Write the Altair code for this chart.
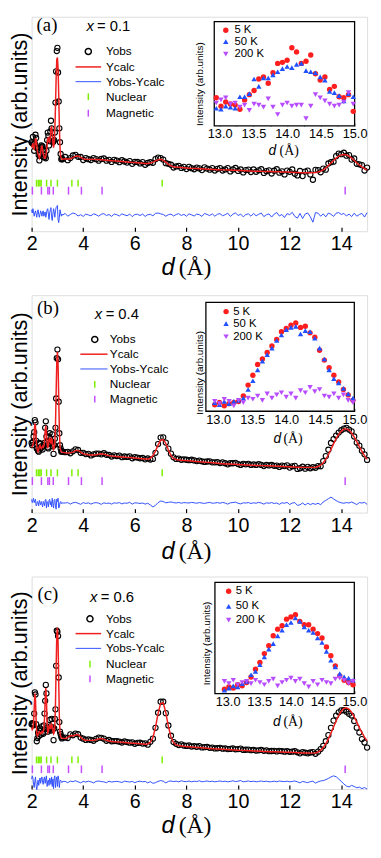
import altair as alt
import numpy as np
import pandas as pd

# ---------------- data ----------------
# d grid (Å): fine steps across the sharp low-d peaks, 0.1 Å elsewhere
D_FINE = np.round(np.arange(2.0, 3.2001, 0.025), 3)      # 49 points
D_COARSE = np.round(np.arange(3.3, 15.0001, 0.1), 2)     # 118 points
D_GRID = np.concatenate([D_FINE, D_COARSE])
INSET_D = np.round(np.arange(12.95, 15.0, 0.07), 2)      # 30 points

# Panel (a) x = 0.1 : Ycalc and residual (Yobs - Ycalc)
CALC_A = [39, 40, 41, 39, 38, 40, 43, 43, 40, 37,
          36, 35, 34, 35, 37, 39, 40, 38, 36, 35,
          34, 34, 35, 37, 40, 43, 44, 42, 41, 44,
          48, 49, 46, 41, 39, 41, 47, 58, 71, 80,
          81, 76, 64, 49, 39, 35, 34, 33.5, 33.5,
          33.8, 33.6, 33.8, 34.3, 35.0, 35.1, 34.4, 33.8, 33.6, 33.5,
          33.5, 33.5, 33.4, 33.4, 33.3, 33.2, 33.1, 33.0, 32.9, 32.8,
          32.7, 32.6, 32.5, 32.4, 32.3, 32.2, 32.1, 32.0, 31.9, 31.8,
          31.7, 31.6, 31.6, 31.8, 32.2, 32.8, 33.3, 33.5, 33.1, 32.2,
          31.2, 30.5, 30.1, 29.9, 29.8, 29.7, 29.6, 29.5, 29.4, 29.3,
          29.3, 29.2, 29.1, 29.1, 29.0, 28.9, 28.9, 28.8, 28.8, 28.7,
          28.7, 28.6, 28.6, 28.5, 28.5, 28.4, 28.4, 28.3, 28.3, 28.2,
          28.2, 28.1, 28.1, 28.0, 28.0, 28.0, 27.9, 27.9, 27.8, 27.8,
          27.8, 27.7, 27.7, 27.7, 27.6, 27.6, 27.6, 27.5, 27.5, 27.4,
          27.4, 27.3, 27.3, 27.3, 27.3, 27.3, 27.3, 27.4, 27.6, 28.0,
          28.6, 29.5, 30.6, 31.8, 33.0, 34.1, 35.0, 35.6, 35.8, 35.6,
          35.0, 34.1, 33.0, 31.9, 30.9, 30.0, 29.2, 28.5]
RES_A = [2.5, 1.0, 3.0, 1.5, -0.5, 1.0, 2.0, 0.5, -1.0, 1.5,
         2.5, 0.5, -1.0, 0.5, 2.0, 1.0, -0.5, 1.5, 2.0, -0.5,
         0.5, 1.5, -1.0, 0.5, 2.5, 3.0, 0.5, -2.0, 1.0, 2.5,
         3.5, -1.0, -2.5, 0.5, 3.0, 1.5, -1.0, 2.0, 3.5, 4.0,
         4.5, -2.0, -3.5, -1.0, 2.5, 1.0, -0.5, 0.5, 0.0,
         0.8, -0.5, 0.3, 1.0, 0.6, -0.4, 0.2, -0.6, 0.5, 0.1,
         -0.3, 0.6, 0.2, -0.5, 0.4, 0.7, -0.2, 0.3, -0.6, 0.5,
         0.2, -0.4, 0.6, 0.1, -0.3, 0.5, -0.7, 0.3, 0.4, -0.2,
         0.5, -0.6, 0.2, 0.4, -0.3, 0.8, 1.0, 0.6, 0.3, -0.5,
         0.2, 0.5, -0.4, 0.3, 0.7, -0.2, 0.4, -0.5, 0.6, 0.1,
         -0.4, 0.5, 0.2, -0.6, 0.8, 0.3, -0.2, 0.6, -0.5, 0.4,
         0.7, -0.3, 0.2, 0.9, -0.6, 0.4, 1.1, -0.2, 0.5, -0.8,
         0.3, 0.6, -0.5, 0.8, -0.3, 0.4, 1.0, -0.7, 0.2, 0.6,
         -0.9, 0.5, 1.2, -0.4, 0.3, -1.1, 0.7, 0.2, 1.3, -0.6,
         -1.4, 0.8, -1.6, 0.5, 1.0, -0.8, -3.3, 1.2, 0.9, -0.5,
         0.6, -0.8, 1.0, 0.4, -0.6, 0.9, 1.2, 0.3, 0.8, -0.4,
         0.5, -0.7, 0.9, -0.5, 0.3, 0.8, -0.9, 1.2]

# Panel (b) x = 0.4
CALC_B = [30, 30.5, 31, 32.5, 36.5, 41, 39.5, 34, 30, 28.5,
          28, 29, 30.5, 31, 30, 29.5, 30, 30.5, 30, 30.5,
          33, 37.5, 40, 37, 31.5, 29.5, 31, 33.5, 34.5, 32.5,
          32, 34, 33.5, 30.5, 29, 29.5, 32, 40, 55, 69,
          74, 68, 53, 38, 30.5, 28.5, 28, 27.8, 27.7,
          27.5, 27.4, 27.5, 27.8, 28.5, 28.6, 27.8, 27.0, 26.8, 26.6,
          26.5, 26.5, 26.6, 26.9, 27.1, 26.9, 26.5, 26.2, 26.0, 25.9,
          25.8, 25.7, 25.6, 25.5, 25.4, 25.3, 25.2, 25.1, 25.0, 24.9,
          24.8, 24.7, 24.7, 25.0, 26.2, 28.3, 31.0, 33.3, 33.6, 31.8,
          28.8, 26.3, 24.9, 24.4, 24.2, 24.1, 24.0, 23.9, 23.8, 23.7,
          23.6, 23.5, 23.4, 23.3, 23.2, 23.1, 23.0, 22.9, 22.8, 22.7,
          22.6, 22.5, 22.4, 22.4, 22.3, 22.2, 22.2, 22.1, 22.0, 22.0,
          21.9, 21.9, 21.8, 21.8, 21.7, 21.7, 21.6, 21.6, 21.5, 21.5,
          21.4, 21.4, 21.3, 21.3, 21.2, 21.2, 21.1, 21.1, 21.0, 21.0,
          20.9, 20.9, 20.8, 20.8, 20.8, 20.8, 20.8, 20.9, 21.2, 21.8,
          22.9, 24.5, 26.6, 29.0, 31.6, 34.0, 36.0, 37.5, 38.4, 38.5,
          37.9, 36.6, 34.8, 32.6, 30.3, 28.2, 26.2, 24.5]
RES_B = [2.0, 0.5, 1.5, 2.5, 0.5, 1.5, 2.0, -1.0, -0.5, 1.0,
         0.5, -1.0, 1.5, 0.5, -0.5, 1.0, 0.0, -1.5, 1.0, 0.5,
         -1.0, 1.5, 2.0, -2.0, 1.0, 0.5, -1.5, 1.5, 2.0, -0.5,
         1.0, -1.5, 2.5, 0.0, -2.0, 1.5, 2.0, -1.0, -2.5, 2.0,
         1.0, 2.5, -2.0, -1.5, 0.5, 1.0, 0.0, 0.5, 0.3,
         0.3, 0.5, -0.2, 0.4, 0.6, 0.2, -0.3, 0.5, 0.1, 0.4,
         -0.2, 0.3, 0.5, 0.2, -0.3, 0.4, 0.1, 0.3, -0.2, 0.4,
         0.2, 0.5, -0.1, 0.3, 0.2, 0.6, -0.2, 0.4, 0.3, 0.1,
         0.3, -0.2, 0.2, -0.6, -1.5, -0.8, 0.5, 1.2, 1.0, 0.4,
         0.6, 0.8, 0.5, 0.3, 0.6, 0.2, 0.5, 0.4, 0.3, 0.6,
         0.4, 0.2, 0.5, 0.3, 0.1, 0.4, 0.6, 0.2, 0.3, 0.5,
         0.2, 0.6, 0.3, -0.2, 0.4, 0.5, 0.7, 0.2, -0.1, 0.4,
         0.3, 0.5, 0.1, 0.4, 0.2, 0.6, 0.3, -0.2, 0.4, 0.2,
         0.5, 0.1, 0.3, -0.3, 0.4, 0.2, 0.6, -0.4, 0.3, 0.5,
         -0.8, -0.5, 0.3, -0.6, 0.2, -0.4, 0.1, -0.3, 0.2, -0.5,
         0.8, 1.5, 2.3, 3.0, 2.2, 1.4, 0.8, 0.4, 0.2, 0.5,
         0.3, 0.8, 0.2, -0.4, 0.5, 0.3, 0.6, -0.3]

# Panel (c) x = 0.6
CALC_C = [29, 28, 28.5, 31, 38, 45, 42, 32, 26, 25,
          25.5, 26.5, 27, 26.5, 26, 26.5, 27, 26.5, 27, 28.5,
          33, 42, 47.5, 42, 31, 26.5, 27, 29.5, 30.5, 28.5,
          28.5, 30.5, 30, 27.5, 26, 26.5, 30, 40, 57, 72,
          76, 69, 51, 34, 26.5, 24.8, 24.2, 24.0, 23.9,
          23.8, 24.2, 25.2, 25.0, 25.4, 25.6, 24.5, 23.3, 23.0, 22.9,
          22.9, 23.0, 23.2, 23.6, 23.8, 23.5, 22.9, 22.6, 22.4, 22.3,
          22.2, 22.1, 22.0, 21.9, 21.8, 21.7, 21.6, 21.5, 21.4, 21.3,
          21.2, 21.1, 21.2, 21.9, 24.2, 29.0, 35.5, 40.3, 40.6, 36.0,
          29.5, 24.5, 21.8, 20.8, 20.5, 20.3, 20.1, 20.0, 19.9, 19.8,
          19.7, 19.6, 19.5, 19.4, 19.3, 19.2, 19.1, 19.0, 18.9, 18.8,
          18.8, 18.7, 18.6, 18.6, 18.5, 18.4, 18.4, 18.3, 18.2, 18.2,
          18.1, 18.0, 18.0, 17.9, 17.9, 17.8, 17.8, 17.7, 17.7, 17.6,
          17.6, 17.5, 17.5, 17.4, 17.4, 17.3, 17.3, 17.3, 17.2, 17.2,
          17.1, 17.1, 17.0, 17.0, 17.0, 16.9, 16.9, 17.0, 17.4, 18.2,
          19.5, 21.3, 23.6, 26.3, 29.2, 32.0, 34.6, 36.6, 37.9, 38.2,
          37.6, 36.1, 34.0, 31.5, 28.9, 26.5, 24.4, 22.7]
RES_C = [1.5, 3.0, 2.0, -1.0, -2.5, 0.5, 2.5, -1.5, -3.5, -1.0,
         1.0, -1.5, 0.5, 2.0, -0.5, 1.5, 2.5, 0.0, -1.0, 1.5,
         2.5, -0.5, 1.5, 3.0, -2.0, 0.5, 1.0, -1.5, 2.0, 1.0,
         -1.0, 2.5, -2.0, 1.5, -3.0, 2.0, 3.0, -2.5, 1.0, 2.5,
         -2.0, 3.0, 1.5, -2.5, 0.5, 1.0, 0.3, -0.2, 0.4,
         0.4, -0.2, 0.5, 0.3, 0.7, 0.2, -0.3, 0.4, 0.1, 0.5,
         0.2, -0.3, 0.4, 0.6, 0.3, 0.2, -0.2, 0.5, 0.1, 0.3,
         0.4, 0.2, -0.1, 0.5, 0.3, 0.1, 0.4, -0.2, 0.3, 0.5,
         0.2, 0.4, -0.3, 0.3, -0.5, -0.2, 0.4, 0.8, 0.5, -0.3,
         0.4, 0.6, 0.3, 0.5, 0.2, 0.7, 0.4, 0.3, 0.6, 0.2,
         0.5, 0.3, 0.7, 0.2, 0.4, 0.6, 0.3, 0.5, 0.2, 0.4,
         0.6, 0.3, 0.5, 0.2, 0.4, 0.7, 0.3, 0.5, 0.8, 0.2,
         0.4, 0.6, 0.3, 0.5, 0.2, 0.4, 0.6, 0.3, 0.5, 0.2,
         0.3, 0.5, 0.2, 0.6, 0.4, 0.3, 0.5, 0.2, 0.4, 0.6,
         0.2, -0.3, 0.4, 0.1, -0.2, 0.3, 0.5, -0.4, 0.2, 0.6,
         0.8, 1.2, 1.8, 2.5, 3.0, 2.6, 1.5, 0.4, -0.8, -1.8,
         -2.2, -1.5, -2.0, -2.6, -2.3, -3.0, -2.5, -3.2]

# Bragg reflection positions (Å)
NUCLEAR_D = [2.19, 2.26, 2.32, 2.37, 2.58, 2.75, 3.00, 3.56, 3.80, 7.06]
MAGNETIC_D = [2.03, 2.38, 2.63, 2.69, 2.84, 3.43, 3.93, 4.73, 14.15]

# Insets: magnetic peak at 5 K, 50 K, 200 K
IN_A_5K = [27, 19, 23, 21, 20, 16, 25, 30, 34, 45, 47, 41, 51, 60, 61,
           63, 75, 71, 60, 62, 68, 50, 44, 47, 35, 38, 28, 27, 30, 14]
IN_A_50K = [17, 16, 19, 18, 17, 28, 28, 31, 45, 38, 46, 46, 49, 52, 55,
            57, 56, 59, 60, 53, 52, 51, 47, 44, 33, 32, 29, 24, 31, 28]
IN_A_200K = [22, 25, 27, 21, 22, 18, 20, 15, 21, 20, 18, 26, 18, 11, 20,
             22, 19, 20, 20, 7, 19, 30, 27, 24, 21, 19, 20, 23, 32, 21]
IN_B_5K = [6, 8, 5, 7, 8, 9, 14, 24, 33, 43, 48, 54, 60, 66, 73,
           76, 79, 81, 77, 78, 72, 68, 56, 47, 40, 33, 27, 20, 15, 10]
IN_B_50K = [8, 6, 9, 7, 9, 10, 12, 20, 28, 38, 46, 52, 58, 65, 70,
            75, 77, 78, 71, 74, 73, 67, 58, 48, 38, 30, 26, 21, 16, 12]
IN_B_200K = [9, 7, 11, 9, 5, 10, 8, 12, 11, 14, 10, 16, 12, 15, 17,
             13, 16, 12, 19, 17, 22, 18, 20, 14, 13, 16, 12, 15, 10, 8]
IN_C_5K = [4, 6, 5, 8, 7, 10, 15, 22, 28, 36, 43, 52, 58, 61, 67,
           69, 71, 65, 62, 62, 58, 54, 50, 42, 34, 25, 16, 12, 10, 8]
IN_C_50K = [3, 5, 7, 6, 9, 11, 17, 20, 26, 33, 40, 45, 52, 57, 62,
            64, 68, 65, 60, 57, 55, 50, 46, 38, 30, 24, 18, 15, 14, 12]
IN_C_200K = [11, 9, 12, 8, 10, 11, 9, 12, 10, 8, 11, 13, 7, 10, 12,
             14, 11, 13, 9, 6, 11, 8, 12, 10, 9, 13, 14, 12, 9, 11]

MAIN_TICKS = list(range(2, 16))
INSET_TICKS = [13.0, 13.25, 13.5, 13.75, 14.0, 14.25, 14.5, 14.75, 15.0]
LEGEND_LABELS = ["Yobs", "Ycalc", "Yobs-Ycalc", "Nuclear", "Magnetic"]
INSET_LABELS = ["5 K", "50 K", "200 K"]

for arr in (CALC_A, RES_A, CALC_B, RES_B, CALC_C, RES_C):
    assert len(arr) == len(D_GRID), (len(arr), len(D_GRID))
for arr in (IN_A_5K, IN_A_50K, IN_A_200K, IN_B_5K, IN_B_50K, IN_B_200K,
            IN_C_5K, IN_C_50K, IN_C_200K):
    assert len(arr) == len(INSET_D), (len(arr), len(INSET_D))

# ---------------- style ----------------
SANS = "Liberation Sans"
SERIF = "Liberation Serif"
CALC_COLOR = "#f01e1e"
DIFF_COLOR = "#3050ff"
NUC_COLOR = "#7cf000"
MAG_COLOR = "#c44dff"
RED = "#ff1e1e"
BLUE = "#2050ff"
VIOLET = "#b84dff"

W = 341          # plot width (keeps the page inside the 381 px window)
REF_LEFT = 31
REF_W = 349
ONE = pd.DataFrame({"k": [0]})

GEOM = {
    "a": dict(top=8, H=218, label="(a)", xval="= 0.1", lab=(47, 22), xv=(88, 99, 22),
              rows=[43.3, 59, 74, 89.3, 106], sym=90, line=(76.7, 103.3), ltext=108.3,
              ins=(221, 367, 13, 119), dom=(12.92, 15.0), ileg=(233, 242, [21.7, 33.3, 46]),
              iytitle=(206, 76.5), ixtitle=(281.5, 289, 149), xtitle=45,
              nuc=22.4, mag=18.9, diff=7.5),
    "b": dict(top=291, H=221, label="(b)", xval="= 0.4", lab=(48, 310), xv=(96.7, 108, 315),
              rows=[336, 351, 366, 381.7, 396.7], sym=96.7, line=(81.7, 110), ltext=112.3,
              ins=(212.3, 366.7, 298.3, 409), dom=(12.82, 15.0), ileg=(233.3, 240.7, [307.7, 320, 333.3]),
              iytitle=(206, 370), ixtitle=(286.5, 293, 441), xtitle=47,
              nuc=18.3, mag=14.5, diff=4.1),
    "c": dict(top=577, H=216, label="(c)", xval="= 0.6", lab=(48, 601), xv=(91.7, 103, 603),
              rows=[620, 635, 650, 666, 681], sym=91.7, line=(76.7, 103.3), ltext=108.3,
              ins=(221.7, 366.7, 583, 696), dom=(12.8, 15.0), ileg=(236, 243.3, [592, 607.3, 621.3]),
              iytitle=(213, 645), ixtitle=(286, 293, 729), xtitle=45,
              nuc=13.7, mag=9.3, diff=3.2),
}


def rx(px):
    return (px - REF_LEFT) * W / REF_W


def text(s, x, y, size, font=SANS, style="normal", align="left", baseline="alphabetic", angle=0):
    return alt.Chart(ONE).mark_text(
        text=s, font=font, fontSize=size, fontStyle=style, align=align, baseline=baseline,
        angle=angle, color="black"
    ).encode(x=alt.value(x), y=alt.value(y))


def build_panel(calc, res, ins5, ins50, ins200, g):
    H, top = g["H"], g["top"]

    def ry(py):
        return py - top

    calc = np.array(calc, dtype=float)
    res = np.array(res, dtype=float)
    df = pd.DataFrame({"d": D_GRID, "calc": calc, "obs": calc + res, "diff": res + g["diff"]})

    xs = alt.Scale(domain=[2, 15], nice=False, zero=False)
    ys = alt.Scale(domain=[0, 100], nice=False, zero=False)
    xax = alt.Axis(values=MAIN_TICKS, labelExpr="datum.value % 2 == 0 ? datum.label : ''",
                   tickSize=4, offset=-4, domain=False, grid=False, title=None,
                   labelFont=SANS, labelFontSize=20, labelColor="black", labelPadding=3,
                   labelFlush=False, labelOverlap=False, tickColor="black", tickWidth=1.2)
    yax = alt.Axis(title="Intensity (arb.units)", labels=False, ticks=False, domain=False, grid=False,
                   titleFont=SANS, titleFontSize=22, titleFontWeight="normal", titleColor="black",
                   titlePadding=0)
    base = alt.Chart(df)
    obs = base.mark_point(shape="circle", filled=False, size=28, strokeWidth=1.1,
                          color="black", opacity=1).encode(
        x=alt.X("d:Q", scale=xs, axis=xax), y=alt.Y("obs:Q", scale=ys, axis=yax))
    calc_l = base.mark_line(color=CALC_COLOR, strokeWidth=1.5).encode(x="d:Q", y="calc:Q")
    diff_l = base.mark_line(color=DIFF_COLOR, strokeWidth=1).encode(x="d:Q", y="diff:Q")
    nuc = alt.Chart(pd.DataFrame({"d": NUCLEAR_D})).mark_rule(color=NUC_COLOR, strokeWidth=1.5).encode(
        x="d:Q", y=alt.datum(g["nuc"] + 1.6), y2=alt.datum(g["nuc"] - 1.6))
    mag = alt.Chart(pd.DataFrame({"d": MAGNETIC_D})).mark_rule(color=MAG_COLOR, strokeWidth=1.5).encode(
        x="d:Q", y=alt.datum(g["mag"] + 1.8), y2=alt.datum(g["mag"] - 1.8))

    over = []
    # panel label and composition
    over.append(text(g["label"], rx(g["lab"][0]), ry(g["lab"][1]), 19, font=SERIF, align="center"))
    over.append(text("x", rx(g["xv"][0]), ry(g["xv"][2]), 15, style="italic"))
    over.append(text(g["xval"], rx(g["xv"][1]), ry(g["xv"][2]), 15))
    # legend
    rows = [ry(v) for v in g["rows"]]
    sx = rx(g["sym"])
    l1, l2 = rx(g["line"][0]), rx(g["line"][1])
    over.append(alt.Chart(ONE).mark_point(shape="circle", filled=False, size=38, strokeWidth=1.5,
                                          color="black", opacity=1).encode(
        x=alt.value(sx), y=alt.value(rows[0])))
    over.append(alt.Chart(ONE).mark_rule(color=CALC_COLOR, strokeWidth=1.5).encode(
        x=alt.value(l1), x2=alt.value(l2), y=alt.value(rows[1])))
    over.append(alt.Chart(ONE).mark_rule(color=DIFF_COLOR, strokeWidth=1).encode(
        x=alt.value(l1), x2=alt.value(l2), y=alt.value(rows[2])))
    over.append(alt.Chart(ONE).mark_rule(color=NUC_COLOR, strokeWidth=1.5).encode(
        x=alt.value(sx), y=alt.value(rows[3] - 3.5), y2=alt.value(rows[3] + 3.5)))
    over.append(alt.Chart(ONE).mark_rule(color=MAG_COLOR, strokeWidth=1.5).encode(
        x=alt.value(sx), y=alt.value(rows[4] - 3.5), y2=alt.value(rows[4] + 3.5)))
    for lab, yy in zip(LEGEND_LABELS, rows):
        over.append(text(lab, rx(g["ltext"]), yy, 12, baseline="middle"))
    # x-axis title  d (Å)
    over.append(text("d", rx(173), H + g["xtitle"], 24, style="italic", align="center"))
    over.append(text("(Å)", rx(184), H + g["xtitle"], 24, font=SERIF))

    main = alt.layer(obs, calc_l, diff_l, nuc, mag, *over)

    # ---------- inset ----------
    il, ir, it, ib_ = g["ins"]
    ixs = alt.Scale(domain=list(g["dom"]), range=[rx(il), rx(ir)], nice=False, zero=False)
    iys = alt.Scale(domain=[0, 100], range=[ry(ib_), ry(it)], nice=False, zero=False)
    ixax = alt.Axis(orient="bottom", offset=ry(ib_) - 3 - H, values=INSET_TICKS,
                    labelExpr="(datum.value * 2) % 1 == 0 ? format(datum.value, '.1f') : ''",
                    tickSize=3, domain=False, grid=False, title=None,
                    labelFont=SANS, labelFontSize=13, labelColor="black", labelPadding=2,
                    labelFlush=False, labelOverlap=False, tickColor="black", tickWidth=1)
    idf = pd.DataFrame({"d": INSET_D, "k5": ins5, "k50": ins50, "k200": ins200})
    frame = alt.Chart(ONE).mark_rect(fill="white", stroke="black", strokeWidth=1.3).encode(
        x=alt.value(rx(il)), x2=alt.value(rx(ir)), y=alt.value(ry(it)), y2=alt.value(ry(ib_)))
    ibase = alt.Chart(idf)
    p5 = ibase.mark_point(shape="circle", filled=True, size=30, color=RED, opacity=1).encode(
        x=alt.X("d:Q", scale=ixs, axis=ixax), y=alt.Y("k5:Q", scale=iys, axis=None))
    p50 = ibase.mark_point(shape="triangle-up", filled=True, size=30, color=BLUE, opacity=1).encode(
        x=alt.X("d:Q"), y=alt.Y("k50:Q", axis=None))
    p200 = ibase.mark_point(shape="triangle-down", filled=True, size=30, color=VIOLET, opacity=1).encode(
        x=alt.X("d:Q"), y=alt.Y("k200:Q", axis=None))

    iover = []
    lx, tx, lrows = g["ileg"]
    for shp, col, lab, yy in zip(["circle", "triangle-up", "triangle-down"], [RED, BLUE, VIOLET],
                                 INSET_LABELS, lrows):
        iover.append(alt.Chart(ONE).mark_point(shape=shp, filled=True, size=30, color=col, opacity=1).encode(
            x=alt.value(rx(lx)), y=alt.value(ry(yy))))
        iover.append(text(lab, rx(tx), ry(yy), 11.5, baseline="middle"))
    iover.append(text("Intensity (arb.units)", rx(g["iytitle"][0]), ry(g["iytitle"][1]), 10,
                      align="center", baseline="middle", angle=270))
    iover.append(text("d", rx(g["ixtitle"][0]), ry(g["ixtitle"][2]), 14, style="italic", align="center"))
    iover.append(text("(Å)", rx(g["ixtitle"][1]), ry(g["ixtitle"][2]), 14, font=SERIF))

    inset = alt.layer(frame, p5, p50, p200, *iover)

    return alt.layer(main, inset).resolve_scale(x="independent", y="independent").properties(
        width=W, height=H)


pa = build_panel(CALC_A, RES_A, IN_A_5K, IN_A_50K, IN_A_200K, GEOM["a"])
pb = build_panel(CALC_B, RES_B, IN_B_5K, IN_B_50K, IN_B_200K, GEOM["b"])
pc = build_panel(CALC_C, RES_C, IN_C_5K, IN_C_50K, IN_C_200K, GEOM["c"])

chart = alt.vconcat(pa, pb, pc, spacing=65, bounds="flush").properties(
    padding=0, autosize=alt.AutoSizeParams(type="pad")
).configure_view(stroke="black", strokeWidth=1.5).configure(background="white")

chart.save("out.html", embed_options={"renderer": "svg", "actions": False})
